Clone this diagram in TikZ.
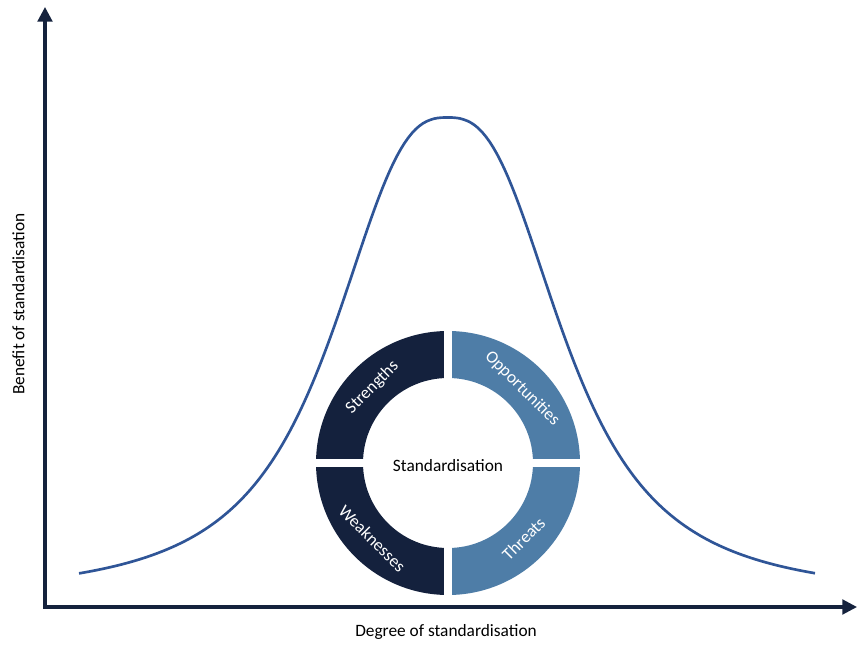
\documentclass[tikz,border=0pt]{standalone}
\usepackage{fontspec}
\setmainfont{Carlito}
\usetikzlibrary{arrows.meta}
\definecolor{axisnavy}{RGB}{21,34,61}
\definecolor{swotdark}{RGB}{20,33,61}
\definecolor{swotlight}{RGB}{78,125,167}
\definecolor{curveblue}{RGB}{47,85,151}
\tikzset{
  axislabel/.style={font=\fontsize{13}{15}\selectfont},
  seglabel/.style={text=white,font=\fontsize{13}{15}\selectfont}
}
\begin{document}
\begin{tikzpicture}[x=0.75pt,y=0.75pt]
  \useasboundingbox (0,0) rectangle (857,644);
  % Axes
  \coordinate (o) at (45,37);
  \coordinate (ytop) at (45,637);
  \coordinate (xend) at (857,37);
  \draw[axisnavy,line width=2.3pt,{Triangle[width=11pt,length=11pt]}-{Triangle[width=11pt,length=11pt]}] (ytop) -- (o) -- (xend);
  \node[axislabel] (xlab) at (446,12) {Degree of standardisation};
  \node[axislabel,rotate=90] (ylab) at (18.5,340) {Benefit of standardisation};
  % Bell curve: flat top, long tails
  \draw[curveblue,line width=2pt,domain=79:815,samples=200]
    plot (\x,{46.1+480.4/(1+((abs(\x-447.5)+0.01)/124.8)^2.7)});
  % SWOT ring
  \coordinate (c) at (448,181);
  \foreach \a/\col in {0/swotlight,90/swotdark,180/swotdark,270/swotlight}
    \fill[\col,shift={(c)}] ({\a}:85) arc[start angle=\a,end angle=\a+90,radius=85]
      -- ({\a+90}:132) arc[start angle=\a+90,end angle=\a,radius=132] -- cycle;
  \draw[white,line width=6.5pt,shift={(c)}] (-136,0) -- (136,0) (0,-136) -- (0,136);
  \node[axislabel] (core) at ([yshift=-2]c) {Standardisation};
  \node[seglabel,rotate=45] (str) at ([shift={(135:107)}]c) {Strengths};
  \node[seglabel,rotate=-45] (opp) at ([shift={(45:105)}]c) {Opportunities};
  \node[seglabel,rotate=-45] (weak) at ([shift={(225:107)}]c) {Weaknesses};
  \node[seglabel,rotate=45] (thr) at ([shift={(315:107)}]c) {Threats};
\end{tikzpicture}
\end{document}
